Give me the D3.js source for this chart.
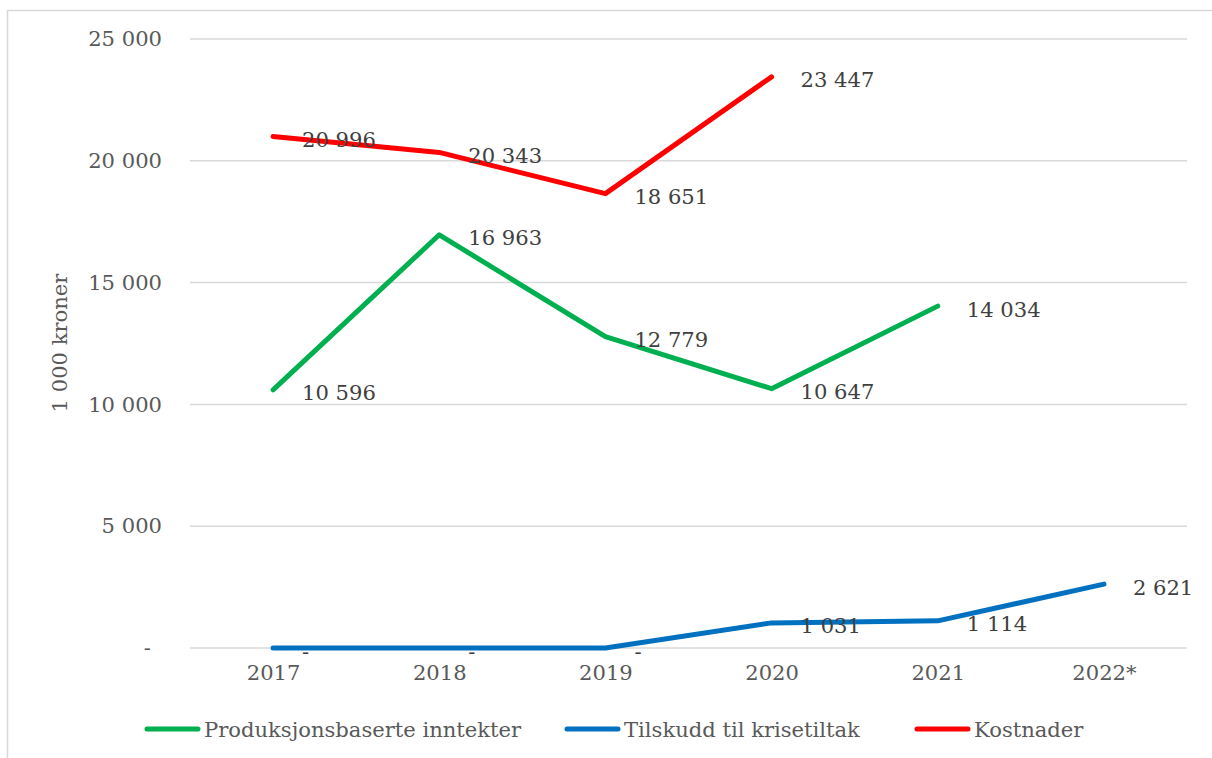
<!DOCTYPE html>
<html><head><meta charset="utf-8">
<script src="https://cdn.jsdelivr.net/npm/d3@7"></script>
<style>body{margin:0;background:#fff}svg{display:block}</style>
</head><body><svg id="c" width="1212" height="758"></svg>
<script>
const years = ["2017","2018","2019","2020","2021","2022*"];
const produksjon = [10596, 16963, 12779, 10647, 14034, null];
const tilskudd = [0, 0, 0, 1031, 1114, 2621];
const kostnader = [20996, 20343, 18651, 23447, null, null];
const yTicks = [0, 5000, 10000, 15000, 20000, 25000];
const seriesNames = ["Produksjonsbaserte inntekter", "Tilskudd til krisetiltak", "Kostnader"];
const seriesColors = ["#00B050", "#0070C0", "#FF0000"];
const yTitle = "1 000 kroner";

const FONT = "'DejaVu Serif', serif";
const FS = 21.1;
const TXT = "#595959";
const svg = d3.select("#c");

svg.append("rect").attr("x",7.5).attr("y",10.5).attr("width",1300).attr("height",800)
  .attr("fill","none").attr("stroke","#d9d9d9").attr("stroke-width",1.5);

const x = d3.scalePoint().domain(years).range([190,1187]).padding(0.5);
const y = d3.scaleLinear().domain([0,25000]).range([648,39]);

const fmt = v => v === 0 ? "-" : d3.format(",")(v).replace(/,/g," ");

// grid
svg.append("g").selectAll("line").data(yTicks).join("line")
  .attr("x1",190).attr("x2",1187).attr("y1",d=>y(d)).attr("y2",d=>y(d))
  .attr("stroke","#d9d9d9").attr("stroke-width",1.5);

// y axis labels
const yAxis = d3.axisLeft(y).tickValues(yTicks).tickFormat(fmt).tickSize(0).tickPadding(0);
const gy = svg.append("g").attr("transform","translate(162,0)").call(yAxis);
gy.select(".domain").remove();
gy.selectAll("text").attr("font-family",FONT).attr("font-size",FS).attr("fill",TXT)
  .attr("dx", d => d===0 ? -11 : 0);

// x axis labels
const xAxis = d3.axisBottom(x).tickSize(0).tickPadding(0);
const gx = svg.append("g").attr("transform","translate(0,665)").call(xAxis);
gx.select(".domain").remove();
gx.selectAll("text").attr("font-family",FONT).attr("font-size",FS).attr("fill",TXT).attr("dy","0.71em");

// y title
svg.append("text").attr("transform","translate(67,343) rotate(-90)")
  .attr("text-anchor","middle").attr("font-family",FONT).attr("font-size",FS).attr("fill",TXT)
  .text(yTitle);

const allSeries = [produksjon, tilskudd, kostnader];
const line = d3.line().defined(d=>d.v!==null).x(d=>x(d.k)).y(d=>y(d.v));

allSeries.forEach((vals,i)=>{
  const data = years.map((k,j)=>({k, v: vals[j]}));
  svg.append("path").datum(data).attr("d",line).attr("fill","none")
    .attr("stroke",seriesColors[i]).attr("stroke-width",5)
    .attr("stroke-linecap","round").attr("stroke-linejoin","round");
});
allSeries.forEach((vals,i)=>{
  const data = years.map((k,j)=>({k, v: vals[j]})).filter(d=>d.v!==null);
  svg.append("g").selectAll("text").data(data).join("text")
    .attr("x",d=>x(d.k)+29).attr("y",d=>y(d.v) + 3)
    .attr("dominant-baseline","central")
    .attr("font-family",FONT).attr("font-size",FS).attr("fill","#404040")
    .text(d=>fmt(d.v));
});

// legend
const legX = [145, 565, 915];
seriesNames.forEach((n,i)=>{
  const g = svg.append("g");
  g.append("line").attr("x1",legX[i]+2).attr("x2",legX[i]+53).attr("y1",729).attr("y2",729)
    .attr("stroke",seriesColors[i]).attr("stroke-width",5).attr("stroke-linecap","round");
  g.append("text").attr("x",legX[i]+59).attr("y",729).attr("dominant-baseline","central")
    .attr("font-family",FONT).attr("font-size",FS).attr("fill",TXT).text(n);
});
</script></body></html>
